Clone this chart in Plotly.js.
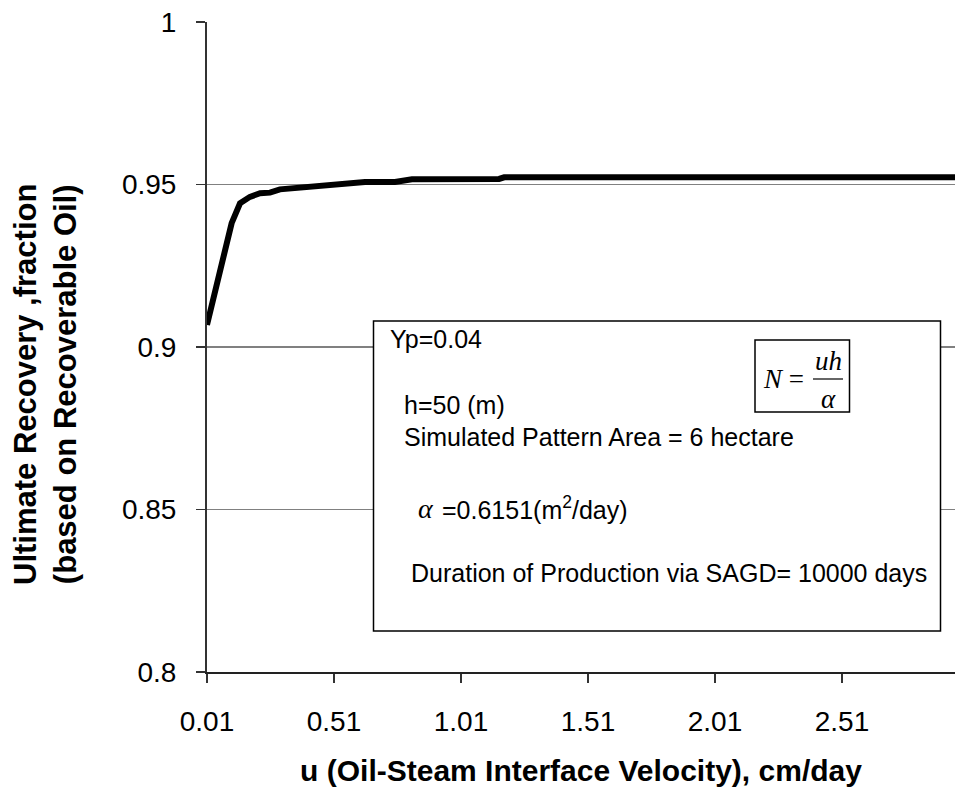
<!DOCTYPE html>
<html>
<head>
<meta charset="utf-8">
<script src="https://cdn.plot.ly/plotly-3.0.1.min.js"></script>
<style>
  html, body { margin: 0; padding: 0; background: #ffffff; }
  #chart { width: 955px; height: 792px; }
</style>
</head>
<body>
<div id="chart"></div>
<script>
// Oil-steam interface velocity (cm/day) and ultimate recovery fraction
const velocity = [0.01, 0.048, 0.081, 0.107, 0.14, 0.179, 0.219, 0.258, 0.297, 0.356, 0.486, 0.632, 0.75, 0.817, 1.16, 1.18, 2.96];
const recovery = [0.9068, 0.9197, 0.9309, 0.9381, 0.9442, 0.9462, 0.9473, 0.9475, 0.9485, 0.9489, 0.9502, 0.9508, 0.9508, 0.9516, 0.9517, 0.9522, 0.9522];

const xTickVals = [0.01, 0.51, 1.01, 1.51, 2.01, 2.51];
const xTickText = ['0.01', '0.51', '1.01', '1.51', '2.01', '2.51'];
const yTickVals = [0.8, 0.85, 0.9, 0.95, 1.0];
const yTickText = ['0.8', '0.85', '0.9', '0.95', '1'];

const SANS = 'Liberation Sans, Arial, sans-serif';
const SERIF = 'Liberation Serif, Times New Roman, serif';

// Helpers: pixel position inside the 955x792 figure -> paper coordinates
const PL = 207, PR = 955, PT = 22, PB = 672;
const px = x => (x - PL) / (PR - PL);
const py = y => (PB - y) / (PB - PT);

const trace = {
  x: velocity,
  y: recovery,
  type: 'scatter',
  mode: 'lines',
  line: { color: '#000000', width: 6, shape: 'linear' },
  hoverinfo: 'skip',
  showlegend: false
};

function note(text, x, y, opts) {
  return Object.assign({
    text: text, xref: 'paper', yref: 'paper', x: px(x), y: py(y),
    xanchor: 'left', yanchor: 'middle', showarrow: false,
    font: { family: SANS, size: 25, color: '#000000' }
  }, opts || {});
}

const annotations = [
  // vertical axis title (two lines, rotated)
  note('Ultimate Recovery ,fraction<br>(based on Recoverable Oil)', 45, 385, {
    xanchor: 'center', textangle: -90,
    font: { family: SANS, size: 31, color: '#000000', weight: 700 }
  }),
  note('Yp=0.04', 388, 339),
  note('h=50 (m)', 402, 405),
  note('Simulated Pattern Area = 6 hectare', 402, 437),
  note('<i>α</i>', 416, 508, { font: { family: SERIF, size: 28, color: '#000' } }),
  note('=0.6151(m<sup>2</sup>/day)', 440, 508),
  note('Duration of Production via SAGD= 10000 days', 409, 573),
  // N = uh / alpha
  note('<i>N</i> =', 761, 379, { font: { family: SERIF, size: 27, color: '#000' } }),
  note('<i>uh</i>', 828, 361, { xanchor: 'center', font: { family: SERIF, size: 27, color: '#000' } }),
  note('<i>α</i>', 828, 399, { xanchor: 'center', font: { family: SERIF, size: 27, color: '#000' } })
];

const shapes = [
  { type: 'rect', xref: 'paper', yref: 'paper', x0: px(373.5), x1: px(940.5), y0: py(631), y1: py(321),
    line: { color: '#000000', width: 1.5 }, fillcolor: '#ffffff', layer: 'above' },
  { type: 'rect', xref: 'paper', yref: 'paper', x0: px(755), x1: px(849.5), y0: py(412), y1: py(340),
    line: { color: '#000000', width: 1.5 }, fillcolor: 'rgba(0,0,0,0)', layer: 'above' },
  { type: 'line', xref: 'paper', yref: 'paper', x0: px(813), x1: px(843), y0: py(379), y1: py(379),
    line: { color: '#000000', width: 1.2 }, layer: 'above' }
];

const layout = {
  width: 955,
  height: 792,
  margin: { l: PL, r: 955 - PR, t: PT, b: 792 - PB, pad: 0 },
  paper_bgcolor: '#ffffff',
  plot_bgcolor: '#ffffff',
  font: { family: SANS, color: '#000000' },
  showlegend: false,
  xaxis: {
    range: [0.01, 2.955],
    tickmode: 'array',
    tickvals: xTickVals,
    ticktext: xTickText,
    ticks: 'outside',
    ticklen: 9,
    tickwidth: 1.5,
    tickcolor: '#333333',
    ticklabelstandoff: 14,
    tickfont: { family: SANS, size: 28, color: '#000000' },
    showline: true,
    linecolor: '#222222',
    linewidth: 2,
    showgrid: false,
    zeroline: false,
    title: {
      text: 'u (Oil-Steam Interface Velocity), cm/day',
      font: { family: SANS, size: 30, color: '#000000', weight: 700 },
      standoff: 24
    }
  },
  yaxis: {
    range: [0.8, 1.0],
    tickmode: 'array',
    tickvals: yTickVals,
    ticktext: yTickText,
    ticks: 'outside',
    ticklen: 9,
    tickwidth: 1.5,
    tickcolor: '#333333',
    ticklabelstandoff: 14,
    tickfont: { family: SANS, size: 28, color: '#000000' },
    showline: true,
    linecolor: '#333333',
    linewidth: 2,
    showgrid: true,
    gridcolor: '#808080',
    gridwidth: 1.6,
    zeroline: false
  },
  annotations: annotations,
  shapes: shapes
};

Plotly.newPlot('chart', [trace], layout, { displayModeBar: false, staticPlot: true });
</script>
</body>
</html>
